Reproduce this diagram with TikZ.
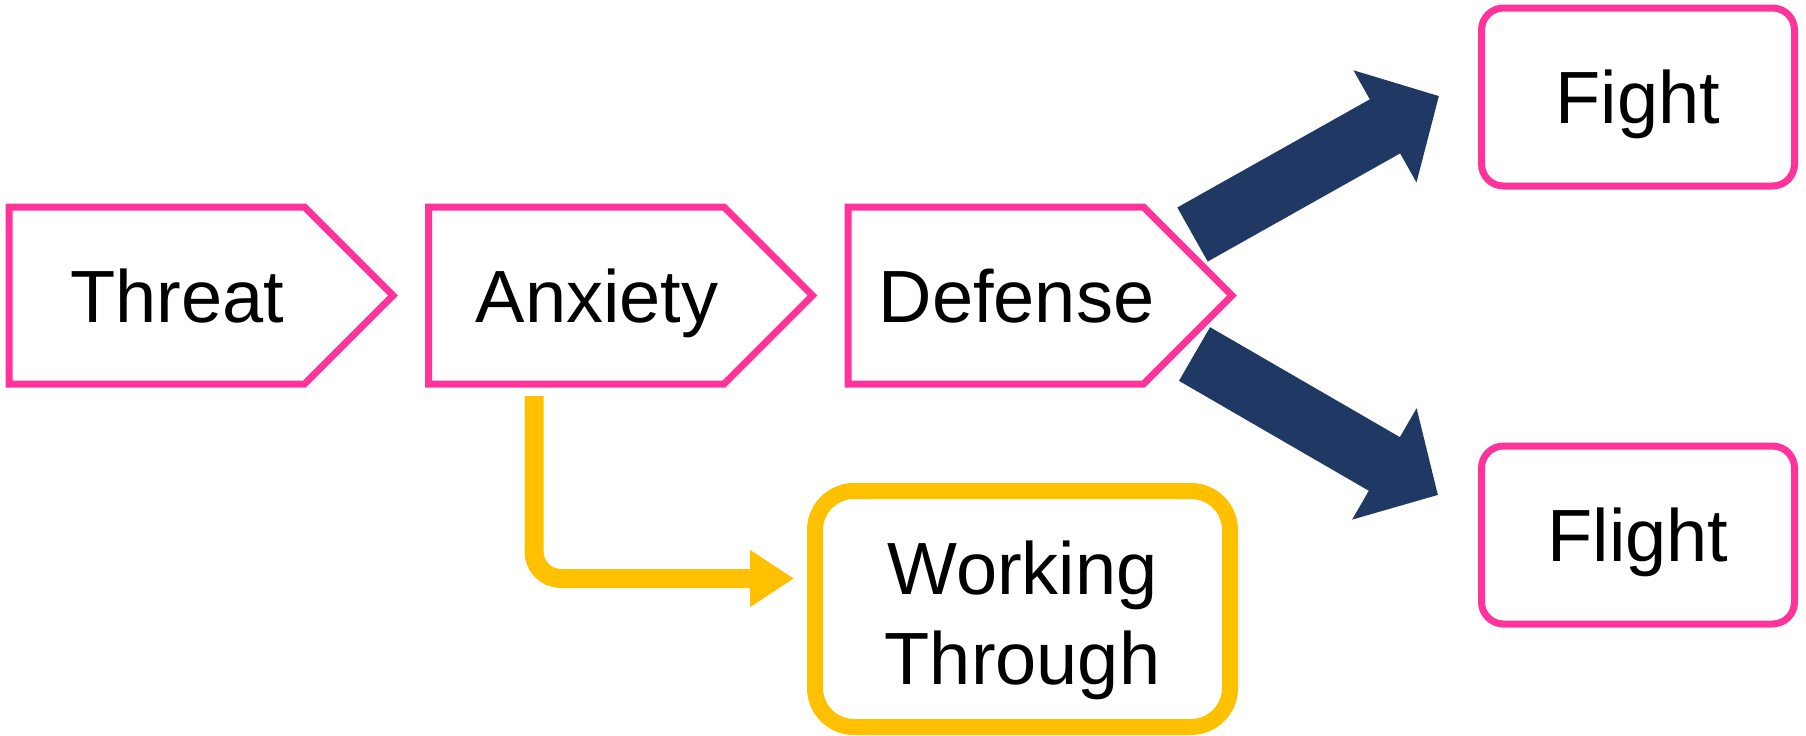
\documentclass[tikz,border=0pt]{standalone}
\usepackage{fontspec}
\setmainfont{Liberation Sans}
\usetikzlibrary{shapes.symbols, arrows.meta, calc}
\definecolor{hotpink}{RGB}{255,51,153}
\definecolor{navy}{RGB}{32,56,100}
\definecolor{amber}{RGB}{255,192,0}
\newcommand{\tagtext}[1]{\makebox[0pt]{\hspace*{20.75pt}#1}}

\begin{document}
\begin{tikzpicture}[
    x=0.5pt, y=-0.5pt,
    every node/.style={font=\fontsize{37}{45}\selectfont},
    tag/.style={shape=signal, signal to=east, signal pointer angle=90, draw=hotpink, line width=3.5pt,
        minimum width=192pt, minimum height=88.5pt, inner sep=0pt, text height=26.5pt, text depth=0pt},
    box/.style={rectangle, draw=hotpink, line width=3.5pt, rounded corners=11pt,
        minimum width=156.5pt, minimum height=89pt, text height=26.5pt, text depth=0pt},
    goal/.style={rectangle, draw=amber, line width=8pt, rounded corners=19.5pt,
        minimum width=207.5pt, minimum height=118pt, align=center},
    arrow/.style={-{Triangle[length=31pt,width=62.5pt]}, line width=31pt, navy},
    side/.style={-{Triangle[length=22pt,width=27pt]}, line width=9.5pt, amber, rounded corners=13.5pt}
]
\useasboundingbox (0,0) rectangle (1806,735);

\node[tag] (T) at (156.75,295.5) {\tagtext{Threat}};
\node[tag] (A) at (576.25,295.5) {\tagtext{Anxiety}};
\node[tag] (D) at (995.75,295.5) {\tagtext{Defense}};
\node[box] (fight) at (1638,97) {Fight};
\node[box] (flight) at (1638,535) {Flight};
\node[goal] (W) at (1022.5,609) {\rule{0pt}{38pt}Working\\Through};

\coordinate (Dup) at ($(D.center)+(196.75,-61)$);
\coordinate (Ddown) at ($(D.center)+(198.75,58.5)$);
\coordinate (fightin) at ($(fight.center)+(-199,-1)$);
\coordinate (flightin) at ($(flight.center)+(-200,-40)$);
\coordinate (Aout) at ($(A.center)+(-42.25,100.5)$);
\coordinate (Win) at ($(W.center)+(-228.5,-30.5)$);

\draw[arrow] (Dup) -- (fightin);
\draw[arrow] (Ddown) -- (flightin);
\draw[side] (Aout) |- (Win);
\end{tikzpicture}
\end{document}
